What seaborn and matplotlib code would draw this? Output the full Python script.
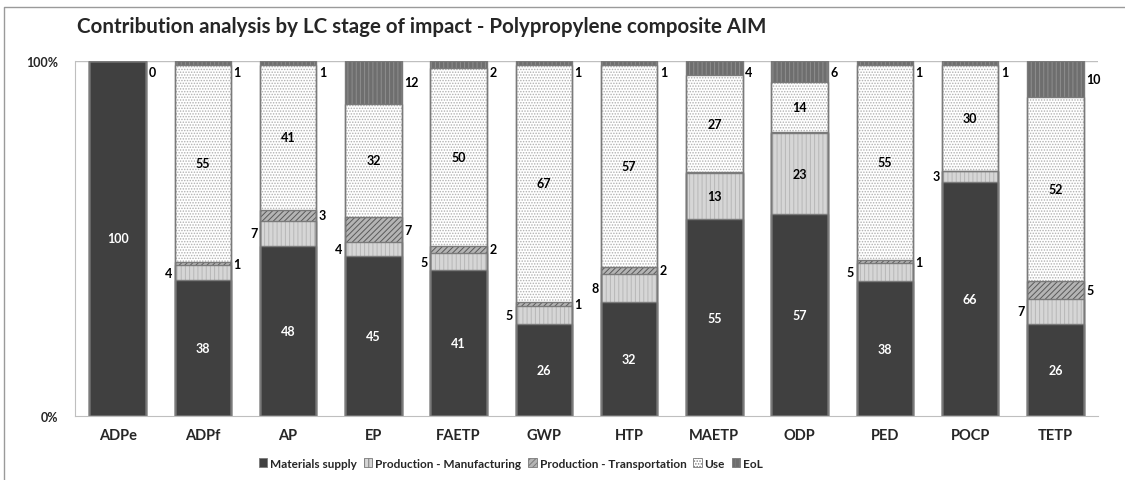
import numpy as np
import pandas as pd
import matplotlib
matplotlib.use("Agg")
import matplotlib.pyplot as plt
import matplotlib.patches as mpatches
import seaborn as sns

# impact categories and the share (%) of each LC stage
categories = ["ADPe", "ADPf", "AP", "EP", "FAETP", "GWP", "HTP", "MAETP", "ODP", "PED", "POCP", "TETP"]
materials = [100, 38, 48, 45, 41, 26, 32, 55, 57, 38, 66, 26]
manufacturing = [0, 4, 7, 4, 5, 5, 8, 13, 23, 5, 3, 7]
transportation = [0, 1, 3, 7, 2, 1, 2, 0.3, 0.3, 1, 0, 5]
use = [0, 55, 41, 32, 50, 67, 57, 27, 14, 55, 30, 52]
eol = [0, 1, 1, 12, 2, 1, 1, 4, 6, 1, 1, 10]

stages = ["Materials supply", "Production - Manufacturing", "Production - Transportation", "Use", "EoL"]
series = [materials, manufacturing, transportation, use, eol]

# face colour, hatch, hatch colour
styles = [
    ("#404040", "", "#404040"),
    ("#d6d6d6", "||||", "#b8b8b8"),
    ("#b4b4b4", "//////", "#5a5a5a"),
    ("#ffffff", "......", "#b0b0b0"),
    ("#6e6e6e", "||||", "#8e8e8e"),
]

df = pd.DataFrame(dict(zip(stages, series)), index=categories)
df = df.div(df.sum(axis=1), axis=0) * 100
cum = df.cumsum(axis=1)

sns.set_style("white")
plt.rcParams["font.family"] = ["Lato", "DejaVu Sans"]
plt.rcParams["hatch.linewidth"] = 0.7

fig = plt.figure(figsize=(11.25, 4.81), dpi=100)
ax = fig.add_axes([75 / 1125, 1 - 417 / 481, 1023 / 1125, 355 / 481])

# stacked bars: draw cumulative totals from the top stage down
for i in range(len(stages) - 1, -1, -1):
    face, hatch, hcol = styles[i]
    sns.barplot(x=categories, y=cum[stages[i]].values, order=categories, color=face,
                saturation=1, width=0.66, errorbar=None, ax=ax, linewidth=0)
    if hatch:
        sns.barplot(x=categories, y=cum[stages[i]].values, order=categories, fill=False,
                    hatch=hatch, edgecolor=hcol, width=0.66, errorbar=None, ax=ax, linewidth=0)
for i in range(len(stages)):
    sns.barplot(x=categories, y=cum[stages[i]].values, order=categories, fill=False,
                edgecolor="#7a7a7a", width=0.66, errorbar=None, ax=ax, linewidth=1)

# value labels
fs = 9
for j, cat in enumerate(categories):
    bottoms = [0] + list(cum.loc[cat].values[:-1])
    for i, st in enumerate(stages):
        v = series[i][j]
        mid = bottoms[i] + df.loc[cat, st] / 2
        txt = f"{v:.0f}"
        kw = dict(va="center", fontsize=fs, fontweight="bold")
        if i == 0:
            ax.text(j, mid, txt, ha="center", color="white", **kw)
        elif i == 1 and v >= 10:
            ax.text(j, mid, txt, ha="center", color="black", **kw)
        elif i == 1 and v >= 0.5:
            ax.text(j - 0.36, mid, txt, ha="right", color="black", **kw)
        elif i == 2 and v >= 0.5:
            ax.text(j + 0.36, mid, txt, ha="left", color="black", **kw)
        elif i == 3 and v >= 0.5:
            ax.text(j, mid, txt, ha="center", color="black", **kw)
        elif i == 4:
            ax.text(j + 0.36, min(mid, 97), txt, ha="left", color="black", **kw)

ax.set_xlim(-0.5, len(categories) - 0.5)
ax.set_ylim(0, 100)
ax.set_yticks([0, 100])
ax.set_yticklabels(["0%", "100%"], fontsize=9, fontweight="bold")
ax.set_xticks(range(len(categories)))
ax.set_xticklabels(categories, fontsize=10.5, fontweight="bold")
ax.tick_params(axis="x", length=0, pad=9)
ax.tick_params(axis="y", length=0, pad=12)
ax.axhline(100, color="#bfbfbf", lw=1, zorder=0)
for s in ["top", "right"]:
    ax.spines[s].set_visible(False)
ax.spines["left"].set_color("#bfbfbf")
ax.spines["bottom"].set_color("#bfbfbf")
ax.set_xlabel("")
ax.set_ylabel("")

fig.text(77 / 1125, 1 - 27 / 481, "Contribution analysis by LC stage of impact - Polypropylene composite AIM",
         fontsize=14.8, fontweight="bold", ha="left", va="center")

handles = [mpatches.Patch(facecolor=f, hatch=h, edgecolor="#7a7a7a", linewidth=0.6) for f, h, _ in styles]
fig.legend(handles, stages, loc="center", bbox_to_anchor=(511 / 1125, 1 - 464 / 481), ncol=5,
           frameon=False, prop={"size": 8.5, "weight": "bold"}, handlelength=0.7, handleheight=0.7,
           handletextpad=0.25, columnspacing=0.6)

# chart area border (left and top)
fig.add_artist(plt.Line2D([4 / 1125, 4 / 1125, 1], [0, 1 - 8 / 481, 1 - 8 / 481], color="#9a9a9a", lw=1))

fig.savefig("out.png", dpi=100)
